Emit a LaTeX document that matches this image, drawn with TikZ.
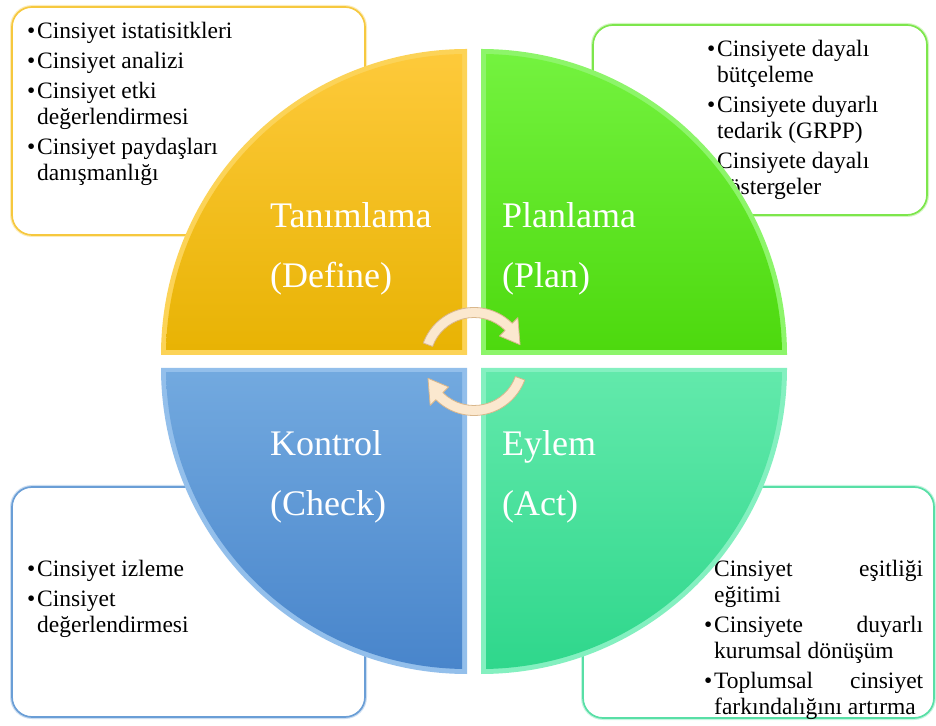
\documentclass[tikz,border=0pt]{standalone}
\usepackage{fontspec}
\setmainfont{Liberation Serif}
\usetikzlibrary{calc}
\definecolor{yelTop}{HTML}{FFCB3E}
\definecolor{yelBot}{HTML}{E8B304}
\definecolor{yelBand}{HTML}{FCD357}
\definecolor{yelLine}{HTML}{F6C83E}
\definecolor{grnTop}{HTML}{76F442}
\definecolor{grnBot}{HTML}{4DD90E}
\definecolor{grnBand}{HTML}{8DF56A}
\definecolor{grnLine}{HTML}{7DE64C}
\definecolor{bluTop}{HTML}{72A9DF}
\definecolor{bluBot}{HTML}{4683CA}
\definecolor{bluBand}{HTML}{93BFEB}
\definecolor{bluLine}{HTML}{6A9ED6}
\definecolor{teaTop}{HTML}{62E9AB}
\definecolor{teaBot}{HTML}{2CD68A}
\definecolor{teaBand}{HTML}{84F0C0}
\definecolor{teaLine}{HTML}{58DFA6}
\definecolor{cream}{HTML}{FBE8CF}
\definecolor{creamEdge}{HTML}{D9B78C}
\newcommand{\bl}{\makebox[10pt][l]{•}}
\newcommand{\ind}{\hspace*{10pt}}
\begin{document}
\begin{tikzpicture}[x=1pt,y=1pt,
  boxglow/.style={rounded corners=20pt, line width=4pt},
  boxline/.style={rounded corners=20pt, line width=1.7pt, fill=white},
  itemtext/.style={anchor=base west, inner sep=0pt, font=\fontsize{23.5}{26}\selectfont},
  quadlabel/.style={anchor=base west, inner sep=0pt, text=white, font=\fontsize{36}{60}\selectfont, align=left},
  arrowshape/.style={fill=cream, draw=creamEdge, line width=0.8pt, line join=round}]
\useasboundingbox (0,0) rectangle (936,725);
% ---- text boxes (behind the circle) ----
\draw[boxglow, yelLine!35] (12,490) rectangle (365,718);
\draw[boxline, draw=yelLine] (12,490) rectangle (365,718);
\draw[boxglow, grnLine!35] (593,510) rectangle (927,700);
\draw[boxline, draw=grnLine] (593,510) rectangle (927,700);
\draw[boxglow, bluLine!35] (12,8) rectangle (365,238);
\draw[boxline, draw=bluLine] (12,8) rectangle (365,238);
\draw[boxglow, teaLine!35] (583,7) rectangle (934,238);
\draw[boxline, draw=teaLine] (583,7) rectangle (934,238);
% ---- box texts ----
\node[itemtext] (tTL) at (27,686) {\begin{tabular}[t]{@{}l@{}}
\bl Cinsiyet istatisitkleri\\[4pt]
\bl Cinsiyet analizi\\[4pt]
\bl Cinsiyet etki\\
\ind değerlendirmesi\\[4pt]
\bl Cinsiyet paydaşları\\
\ind danışmanlığı
\end{tabular}};
\node[itemtext] (tTR) at (707,668) {\begin{tabular}[t]{@{}l@{}}
\bl Cinsiyete dayalı\\
\ind bütçeleme\\[4pt]
\bl Cinsiyete duyarlı\\
\ind tedarik (GRPP)\\[4pt]
\bl Cinsiyete dayalı\\
\ind göstergeler
\end{tabular}};
\node[itemtext] (tBL) at (27,148) {\begin{tabular}[t]{@{}l@{}}
\bl Cinsiyet izleme\\[4pt]
\bl Cinsiyet\\
\ind değerlendirmesi
\end{tabular}};
\node[itemtext] (tBR) at (704,148) {\begin{tabular}[t]{@{}l@{}}
\bl \makebox[209pt][s]{Cinsiyet eşitliği}\\
\ind eğitimi\\[4pt]
\bl \makebox[209pt][s]{Cinsiyete duyarlı}\\
\ind kurumsal dönüşüm\\[4pt]
\bl \makebox[209pt][s]{Toplumsal cinsiyet}\\
\ind farkındalığını artırma
\end{tabular}};
% ---- quadrants ----
\fill[yelBand] (467,370) -- (161,370) arc[start angle=180,end angle=90,radius=306] -- cycle;
\begin{scope}
\clip (467,370) circle (301);
\shade[top color=yelTop, bottom color=yelBot] (462,375) rectangle (150,690);
\end{scope}
\fill[grnBand] (481,370) -- (787,370) arc[start angle=0,end angle=90,radius=306] -- cycle;
\begin{scope}
\clip (481,370) circle (301);
\shade[top color=grnTop, bottom color=grnBot] (486,375) rectangle (800,690);
\end{scope}
\fill[bluBand] (467,357) -- (161,357) arc[start angle=180,end angle=270,radius=306] -- cycle;
\begin{scope}
\clip (467,357) circle (301);
\shade[top color=bluTop, bottom color=bluBot] (462,352) rectangle (150,40);
\end{scope}
\fill[teaBand] (481,357) -- (787,357) arc[start angle=0,end angle=-90,radius=306] -- cycle;
\begin{scope}
\clip (481,357) circle (301);
\shade[top color=teaTop, bottom color=teaBot] (486,352) rectangle (800,40);
\end{scope}
% ---- cycle arrows ----
\begin{scope}[shift={(474,363.5)}]
\path[arrowshape] (160:54) arc[start angle=160,end angle=45,radius=54]
  -- (45:62) -- (20:49) -- (45:36) -- (45:44)
  arc[start angle=45,end angle=160,radius=44] -- cycle;
\path[arrowshape] (340:54) arc[start angle=340,end angle=225,radius=54]
  -- (225:62) -- (200:49) -- (225:36) -- (225:44)
  arc[start angle=225,end angle=340,radius=44] -- cycle;
\end{scope}
% ---- quadrant labels (anchor on last line's baseline) ----
\node[quadlabel] (lTL) at (270,437) {Tanımlama\\(Define)};
\node[quadlabel] (lTR) at (502,437) {Planlama\\(Plan)};
\node[quadlabel] (lBL) at (270,209) {Kontrol\\(Check)};
\node[quadlabel] (lBR) at (502,209) {Eylem\\(Act)};
\end{tikzpicture}
\end{document}
